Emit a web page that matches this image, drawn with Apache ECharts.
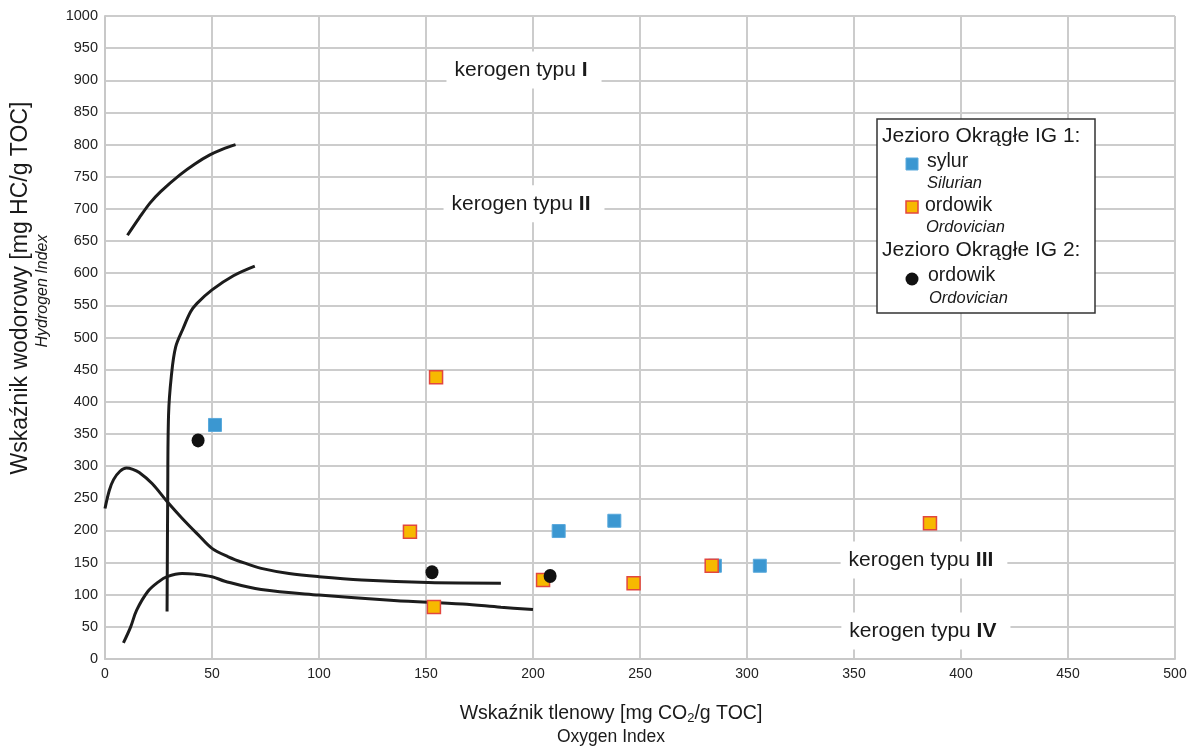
<!DOCTYPE html>
<html>
<head>
<meta charset="utf-8">
<script src="https://cdn.jsdelivr.net/npm/echarts@6/dist/echarts.min.js"></script>
<style>
html,body{margin:0;padding:0;background:#fff;}
#c{width:1198px;height:749px;}
</style>
</head>
<body>
<div id="c"></div>
<script>
// ---- data ----
const xTicks = [0,50,100,150,200,250,300,350,400,450,500];
const yTicks = [0,50,100,150,200,250,300,350,400,450,500,550,600,650,700,750,800,850,900,950,1000];

// Jezioro Okrągłe IG 1 – sylur (Silurian)  [OI, HI]
const silurian = [[51.4,364],[212,199],[238,215],[285,145],[306,145]];
// Jezioro Okrągłe IG 1 – ordowik (Ordovician)
const ordovician1 = [[154.7,438],[142.5,198],[153.7,81],[204.7,123],[247,118],[283.5,145],[385.5,211]];
// Jezioro Okrągłe IG 2 – ordowik (Ordovician)
const ordovician2 = [[43.5,340],[152.8,135],[208,129]];

// kerogen type boundary curves
const curveTypeI = [[10.5,659],[16,686],[21,709],[26,727],[35,753],[42,770],[49,784],[55,793],[61,800]];
const curveTypeII = [[29,74],[29.3,250],[29.7,380],[31,440],[33,485],[36.5,514],[40,540],[43,553],[50,574],[60,596],[70,611]];
const curveTypeIII = [[0,234],[2,262],[4,279],[7,292],[10,297],[13,295],[16,290],[22,273],[29,245],[36,219],[43.6,193],[50,172],[57.6,159],[65.4,149],[73,141],[86,133],[100,128],[120,123],[151,119],[185,118]];
const curveTypeIV = [[8.6,25],[12,50],[14.8,76],[20,105],[25,120],[29,128],[36,133],[42,132],[50,128],[56,121],[73,108],[100,99.5],[135,91],[167,85.5],[185,80.5],[200,77]];

// region annotations
const kerogenNames = ['kerogen typu ', 'kerogen typu ', 'kerogen typu ', 'kerogen typu '];
const kerogenNumerals = ['I','II','III','IV'];
const kerogenAt = [[195.8,916],[195.8,708],[382.7,154],[383.6,43.5]];

// ---- chart ----
const FONT = '"Liberation Sans", Arial, sans-serif';
const chart = echarts.init(document.getElementById('c'), null, {renderer:'canvas'});

function curve(data){
  return {type:'line', data:data, smooth:0.35, symbol:'none', silent:true,
    lineStyle:{color:'#1c1c1c', width:3}, z:3};
}

const annData = kerogenAt.map((p,i)=>({value:p, name:kerogenNames[i], num:kerogenNumerals[i]}));
const TXT = '#1a1a1a';
const LZ = 100;

const option = {
  backgroundColor:'#fff',
  animation:false,
  grid:{left:105, right:23, top:16, bottom:90, containLabel:false},
  xAxis:{type:'value', min:0, max:500, interval:50,
    axisLine:{show:true, lineStyle:{color:'#c8c8c8', width:2}},
    axisTick:{show:false},
    splitLine:{show:true, lineStyle:{color:'#cccccc', width:2}},
    axisLabel:{color:'#222', fontFamily:FONT, fontSize:14, margin:8,
      formatter:(v)=> xTicks.indexOf(v)>=0 ? String(v) : ''}
  },
  yAxis:{type:'value', min:0, max:1000, interval:50,
    axisLine:{show:true, lineStyle:{color:'#c8c8c8', width:2}},
    axisTick:{show:false},
    splitLine:{show:true, lineStyle:{color:'#cccccc', width:2}},
    axisLabel:{color:'#222', fontFamily:FONT, fontSize:14.5, margin:7,
      formatter:(v)=> yTicks.indexOf(v)>=0 ? String(v) : ''}
  },
  series:[
    curve(curveTypeI), curve(curveTypeII), curve(curveTypeIII), curve(curveTypeIV),
    {type:'scatter', data:annData, symbolSize:1, itemStyle:{color:'rgba(0,0,0,0)', opacity:1}, silent:true, z:4,
      label:{show:true, position:'inside',
        formatter:(p)=> p.data.name + '{b|' + p.data.num + '}',
        backgroundColor:'#fff', padding:[8,14,8,8],
        color:TXT, fontFamily:FONT, fontSize:21,
        rich:{b:{fontFamily:FONT, fontSize:21, fontWeight:'bold', color:TXT}}
      }
    },
    {type:'scatter', name:'sylur', data:silurian, symbol:'rect', symbolSize:13, z:5,
      itemStyle:{color:'#3b97d1', borderColor:'#5aa9dc', borderWidth:1, opacity:1}},
    {type:'scatter', name:'ordowik IG1', data:ordovician1, symbol:'rect', symbolSize:13, z:6,
      itemStyle:{color:'#f7b900', borderColor:'#e2473f', borderWidth:1.5, opacity:1}},
    {type:'scatter', name:'ordowik IG2', data:ordovician2, symbol:'circle', symbolSize:[13,14], z:7,
      itemStyle:{color:'#111', opacity:1}}
  ],
  graphic:[
    // y-axis title
    {type:'text', x:21, y:288, rotation:Math.PI/2, z:10,
      style:{text:'Wskaźnik wodorowy [mg HC/g TOC]', font:'23px '+FONT, fill:TXT, textAlign:'center', textVerticalAlign:'middle'}},
    {type:'text', x:43, y:291, rotation:Math.PI/2, z:10,
      style:{text:'Hydrogen Index', font:'italic 16px '+FONT, fill:TXT, textAlign:'center', textVerticalAlign:'middle'}},
    // x-axis title
    {type:'text', x:611, y:714, z:10,
      style:{text:'Wskaźnik tlenowy [mg CO{s|2}/g TOC]', font:'19.5px '+FONT, fill:TXT, textAlign:'center', textVerticalAlign:'middle',
        rich:{s:{fontSize:13, fontFamily:FONT, fill:TXT, padding:[9,0,0,0]}}}},
    {type:'text', x:611, y:737, z:10,
      style:{text:'Oxygen Index', font:'17.5px '+FONT, fill:TXT, textAlign:'center', textVerticalAlign:'middle'}},
    // legend box
    {type:'group', x:877, y:119, z:LZ, children:[
      {type:'rect', z:LZ, shape:{x:0,y:0,width:218,height:194}, style:{fill:'#fff', stroke:'#333', lineWidth:1.5}},
      {type:'text', z:LZ+1, x:5, y:17, style:{text:'Jezioro Okrągłe IG 1:', font:'21px '+FONT, fill:TXT, textVerticalAlign:'middle'}},
      {type:'rect', z:LZ+1, shape:{x:29,y:39,width:12,height:12}, style:{fill:'#3b97d1', stroke:'#5aa9dc', lineWidth:1}},
      {type:'text', z:LZ+1, x:50, y:43, style:{text:'sylur', font:'19.5px '+FONT, fill:TXT, textVerticalAlign:'middle'}},
      {type:'text', z:LZ+1, x:50, y:64.5, style:{text:'Silurian', font:'italic 16.5px '+FONT, fill:TXT, textVerticalAlign:'middle'}},
      {type:'rect', z:LZ+1, shape:{x:29,y:82,width:12,height:12}, style:{fill:'#f7b900', stroke:'#e2473f', lineWidth:1.5}},
      {type:'text', z:LZ+1, x:48, y:87, style:{text:'ordowik', font:'19.5px '+FONT, fill:TXT, textVerticalAlign:'middle'}},
      {type:'text', z:LZ+1, x:49, y:108.5, style:{text:'Ordovician', font:'italic 16.5px '+FONT, fill:TXT, textVerticalAlign:'middle'}},
      {type:'text', z:LZ+1, x:5, y:131.5, style:{text:'Jezioro Okrągłe IG 2:', font:'21px '+FONT, fill:TXT, textVerticalAlign:'middle'}},
      {type:'circle', z:LZ+1, shape:{cx:35, cy:160, r:6.5}, style:{fill:'#111'}},
      {type:'text', z:LZ+1, x:51, y:157, style:{text:'ordowik', font:'19.5px '+FONT, fill:TXT, textVerticalAlign:'middle'}},
      {type:'text', z:LZ+1, x:52, y:179, style:{text:'Ordovician', font:'italic 16.5px '+FONT, fill:TXT, textVerticalAlign:'middle'}}
    ]}
  ]
};
chart.setOption(option);
</script>
</body>
</html>
